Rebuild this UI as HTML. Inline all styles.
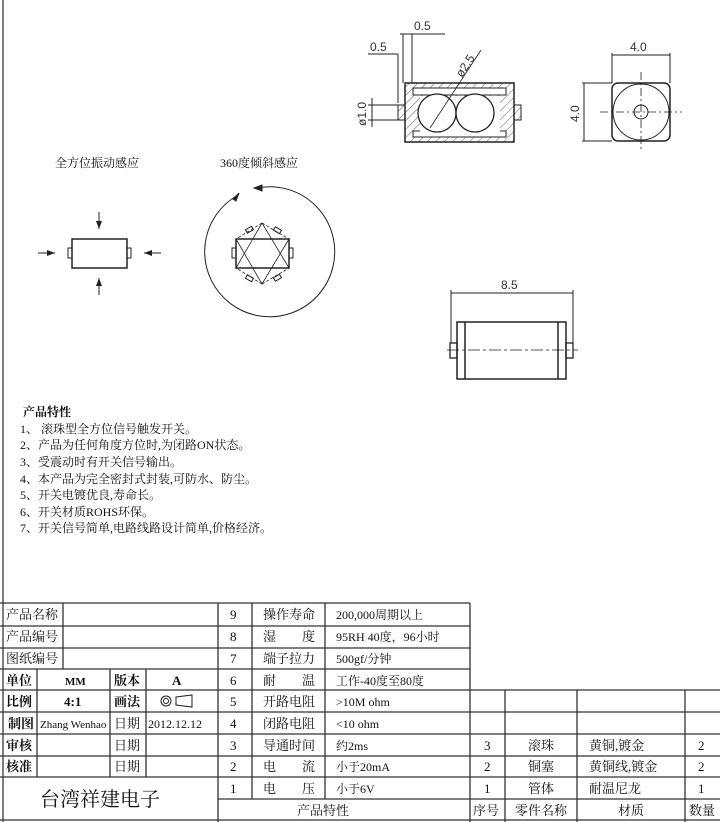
<!DOCTYPE html>
<html><head><meta charset="utf-8"><style>
body{margin:0;background:#fff;width:720px;height:822px;overflow:hidden}
svg{display:block}
.t{font-family:"Liberation Serif","Noto Serif CJK SC",serif;font-size:13px;fill:#111}
.d{font-family:"Liberation Sans",sans-serif;font-size:12px;fill:#333}
</style></head><body>
<svg width="720" height="822" viewBox="0 0 720 822" xmlns="http://www.w3.org/2000/svg">
<defs>
<pattern id="h" width="6" height="6" patternUnits="userSpaceOnUse" patternTransform="rotate(45)"><line x1="0" y1="0" x2="0" y2="6" stroke="#333" stroke-width="0.8"/></pattern>
<marker id="a" markerWidth="8" markerHeight="6" refX="8" refY="3" orient="auto"><path d="M0,0 L8,3 L0,6 z" fill="#222"/></marker>
</defs>
<line x1="3" y1="0" x2="3" y2="822" stroke="#555" stroke-width="1.5"/>
<g stroke="#222" fill="none" stroke-width="1">
<rect x="405" y="83" width="109" height="59" fill="url(#h)" stroke-width="1.5"/>
<rect x="398" y="105" width="7" height="15" fill="url(#h)"/>
<rect x="514" y="105" width="7" height="15" fill="url(#h)"/>
<rect x="413" y="88" width="93" height="7" fill="#fff"/>
<rect x="413" y="131" width="93" height="6" fill="#fff"/>
<path d="M420,96 L500,96 L500,132 L420,132 z" fill="#fff" stroke="none"/>
<circle cx="437" cy="113" r="19" fill="#fff" stroke-width="1.3"/>
<circle cx="475" cy="113" r="19" fill="#fff" stroke-width="1.3"/>
<line x1="430" y1="128" x2="481" y2="50" stroke-width="0.8"/>
<line x1="398" y1="54" x2="398" y2="103"/><line x1="403" y1="34" x2="403" y2="83"/><line x1="412" y1="34" x2="412" y2="83"/>
<line x1="368" y1="54" x2="398" y2="54"/><line x1="400" y1="34" x2="445" y2="34"/>
<line x1="368" y1="105" x2="398" y2="105"/><line x1="368" y1="120" x2="398" y2="120"/><line x1="372" y1="98" x2="372" y2="127"/>
<rect x="612" y="83" width="58" height="58" rx="6" stroke-width="1.5"/>
<circle cx="641" cy="112" r="28"/>
<circle cx="641" cy="112" r="7"/>
<line x1="600" y1="112" x2="682" y2="112" stroke-dasharray="8,3,2,3" stroke-width="0.8"/>
<line x1="641" y1="72" x2="641" y2="152" stroke-dasharray="8,3,2,3" stroke-width="0.8"/>
<line x1="612" y1="53" x2="612" y2="83"/><line x1="670" y1="53" x2="670" y2="83"/><line x1="612" y1="55" x2="670" y2="55"/>
<line x1="582" y1="83" x2="612" y2="83"/><line x1="582" y1="141" x2="612" y2="141"/><line x1="584" y1="83" x2="584" y2="141"/>
<rect x="457" y="322" width="109" height="57" stroke-width="1.5"/>
<line x1="465" y1="322" x2="465" y2="379" stroke-width="1.5"/><line x1="558" y1="322" x2="558" y2="379" stroke-width="1.5"/>
<rect x="450" y="343" width="7" height="15" stroke-width="1.3"/><rect x="566" y="343" width="7" height="15" stroke-width="1.3"/>
<line x1="447" y1="350" x2="578" y2="350" stroke-dasharray="12,3,3,3" stroke-width="0.8"/>
<line x1="451" y1="290" x2="451" y2="343"/><line x1="573" y1="290" x2="573" y2="343"/><line x1="451" y1="293" x2="573" y2="293"/>
<rect x="72" y="239" width="55" height="29" stroke-width="1.5"/>
<rect x="68" y="248" width="4" height="10"/><rect x="127" y="248" width="4" height="10"/>
<line x1="38" y1="253" x2="55" y2="253" marker-end="url(#a)"/>
<line x1="161" y1="253" x2="144" y2="253" marker-end="url(#a)"/>
<line x1="99" y1="212" x2="99" y2="229" marker-end="url(#a)"/>
<line x1="99" y1="295" x2="99" y2="278" marker-end="url(#a)"/>
<path d="M238,195 A65,65 0 1 0 257,188" stroke-width="1"/>
<path d="M233,199 L239,193 L236,201 z" fill="#222"/>
<path d="M254,188 L262,185 L262,191 z" fill="#222"/>
<rect x="236" y="239" width="53" height="29" stroke-width="1.5"/>
<rect x="232" y="248" width="4" height="10"/><rect x="289" y="248" width="4" height="10"/>
<path d="M262,223 L236,268 M262,223 L289,268 M262,284 L236,239 M262,284 L289,239" stroke-width="0.8"/>
<path d="M262,223 L236,239 M262,223 L289,239 M262,284 L236,268 M262,284 L289,268" stroke-width="0.8" stroke-dasharray="3,2"/>
<rect x="246" y="228" width="7" height="4" transform="rotate(-30 249 230)"/>
<rect x="274" y="228" width="7" height="4" transform="rotate(30 277 230)"/>
<rect x="246" y="276" width="7" height="4" transform="rotate(30 249 278)"/>
<rect x="274" y="276" width="7" height="4" transform="rotate(-30 277 278)"/>
</g>
<text class="d" x="414" y="30">0.5</text>
<text class="d" x="370" y="51">0.5</text>
<text class="d" transform="translate(462,78) rotate(-57)">ø2.5</text>
<text class="d" transform="translate(366,126) rotate(-90)">ø1.0</text>
<text class="d" x="630" y="51">4.0</text>
<text class="d" transform="translate(579,122) rotate(-90)">4.0</text>
<text class="d" x="501" y="289">8.5</text>
<text class="t" x="55" y="167" style="font-size:12px">全方位振动感应</text>
<text class="t" x="220" y="167" style="font-size:12px">360度倾斜感应</text>
<g class="t" style="font-size:12px">
<text x="23" y="416" font-weight="bold">产品特性</text>
<text x="20" y="433">1、 滚珠型全方位信号触发开关。</text>
<text x="20" y="449">2、产品为任何角度方位时,为闭路ON状态。</text>
<text x="20" y="466">3、受震动时有开关信号输出。</text>
<text x="20" y="483">4、本产品为完全密封式封装,可防水、防尘。</text>
<text x="20" y="499">5、开关电镀优良,寿命长。</text>
<text x="20" y="516">6、开关材质ROHS环保。</text>
<text x="20" y="532">7、开关信号简单,电路线路设计简单,价格经济。</text>
</g>
<g stroke="#333" stroke-width="1.3" fill="none">
<line x1="0" y1="603" x2="470" y2="603"/>
<line x1="0" y1="626" x2="470" y2="626"/>
<line x1="0" y1="648" x2="470" y2="648"/>
<line x1="0" y1="669" x2="470" y2="669"/>
<line x1="0" y1="690" x2="720" y2="690"/>
<line x1="0" y1="712" x2="720" y2="712"/>
<line x1="0" y1="734" x2="720" y2="734"/>
<line x1="0" y1="756" x2="720" y2="756"/>
<line x1="0" y1="777" x2="720" y2="777"/>
<line x1="218" y1="799" x2="720" y2="799"/>
<line x1="0" y1="820" x2="720" y2="820"/>
<line x1="63" y1="603" x2="63" y2="669"/>
<line x1="37" y1="669" x2="37" y2="777"/>
<line x1="110" y1="669" x2="110" y2="777"/>
<line x1="146" y1="669" x2="146" y2="777"/>
<line x1="218" y1="603" x2="218" y2="822"/>
<line x1="252" y1="603" x2="252" y2="799"/>
<line x1="325" y1="603" x2="325" y2="799"/>
<line x1="470" y1="603" x2="470" y2="822"/>
<line x1="505" y1="690" x2="505" y2="822"/>
<line x1="577" y1="690" x2="577" y2="822"/>
<line x1="685" y1="690" x2="685" y2="822"/>
</g>
<g class="t">
<text x="6" y="619">产品名称</text><text x="6" y="641">产品编号</text><text x="6" y="663">图纸编号</text>
<text x="6" y="685" font-weight="bold">单位</text><text x="65" y="685" font-weight="bold" font-size="11">MM</text>
<text x="114" y="685" font-weight="bold">版本</text><text x="172" y="685" font-weight="bold">A</text>
<text x="6" y="706" font-weight="bold">比例</text><text x="64" y="706" font-weight="bold">4:1</text>
<text x="114" y="706" font-weight="bold">画法</text>
<text x="8" y="728" font-weight="bold">制图</text><text x="40" y="728" font-size="11">Zhang Wenhao</text>
<text x="114" y="728">日期</text><text x="148" y="728" font-size="12">2012.12.12</text>
<text x="6" y="750" font-weight="bold">审核</text><text x="114" y="750">日期</text>
<text x="6" y="771" font-weight="bold">核准</text><text x="114" y="771">日期</text>
<text x="40" y="806" style="font-size:20px">台湾祥建电子</text>
<text x="230" y="619">9</text><text x="230" y="641">8</text><text x="230" y="663">7</text><text x="230" y="685">6</text><text x="230" y="706">5</text><text x="230" y="728">4</text><text x="230" y="750">3</text><text x="230" y="771">2</text><text x="230" y="793">1</text>
<text x="263" y="619">操作寿命</text><text x="263" y="641">湿　　度</text><text x="263" y="663">端子拉力</text><text x="263" y="685">耐　　温</text><text x="263" y="706">开路电阻</text><text x="263" y="728">闭路电阻</text><text x="263" y="750">导通时间</text><text x="263" y="771">电　　流</text><text x="263" y="793">电　　压</text>
<text x="336" y="619" font-size="12">200,000周期以上</text><text x="336" y="641" font-size="12">95RH 40度，96小时</text><text x="336" y="663" font-size="12">500gf/分钟</text><text x="336" y="685" font-size="12">工作-40度至80度</text><text x="336" y="706" font-size="12">&gt;10M ohm</text><text x="336" y="728" font-size="12">&lt;10 ohm</text><text x="336" y="750" font-size="12">约2ms</text><text x="336" y="771" font-size="12">小于20mA</text><text x="336" y="793" font-size="12">小于6V</text>
<text x="297" y="815">产品特性</text>
<text x="484" y="750">3</text><text x="484" y="771">2</text><text x="484" y="793">1</text>
<text x="528" y="750">滚珠</text><text x="528" y="771">铜塞</text><text x="528" y="793">管体</text>
<text x="589" y="750">黄铜,镀金</text><text x="589" y="771">黄铜线,镀金</text><text x="589" y="793">耐温尼龙</text>
<text x="698" y="750">2</text><text x="698" y="771">2</text><text x="698" y="793">1</text>
<text x="473" y="815">序号</text><text x="515" y="815">零件名称</text><text x="618" y="815">材质</text><text x="689" y="815">数量</text>
</g>
<g stroke="#222" fill="none">
<circle cx="166" cy="701" r="5"/><circle cx="166" cy="701" r="2.5"/>
<path d="M176,697 L192,695 L192,707 L176,705 z"/>
</g>
</svg>
</body></html>
